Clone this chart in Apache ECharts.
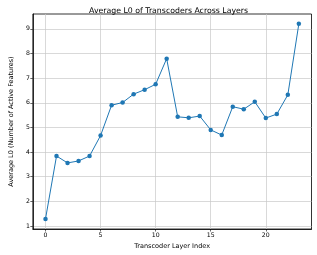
<!DOCTYPE html>
<html><head><meta charset="utf-8">
<script src="https://cdn.jsdelivr.net/npm/echarts@6/dist/echarts.min.js"></script>
<style>html,body{margin:0;padding:0;background:#fff}#c{width:317px;height:255px}</style>
</head><body><div id="c"></div>
<script>
const layers = [0,1,2,3,4,5,6,7,8,9,10,11,12,13,14,15,16,17,18,19,20,21,22,23];
const avgL0 = [1.29,3.84,3.56,3.64,3.84,4.67,5.90,6.01,6.35,6.53,6.75,7.79,5.43,5.39,5.46,4.90,4.69,5.84,5.74,6.04,5.38,5.54,6.32,9.20];
const xTicks = [0,5,10,15,20];
const yTicks = [1,2,3,4,5,6,7,8,9];
const FONT = 'DejaVu Sans';
const chart = echarts.init(document.getElementById('c'), null, {renderer:'canvas'});
const axisCommon = {
  axisLine:{show:true,onZero:false,lineStyle:{color:'#000',width:0.8}},
  axisTick:{show:true,length:2.5,lineStyle:{color:'#000',width:0.6}},
  axisLabel:{color:'#000',fontFamily:FONT,fontSize:6.2,margin:3},
  splitLine:{show:true,lineStyle:{color:'#c8c8c8',width:0.7}},
  nameTextStyle:{color:'#000',fontFamily:FONT,fontSize:6.5}
};
chart.setOption({
  animation:false,
  title:{text:'Average L0 of Transcoders Across Layers',left:84,top:2,
    textStyle:{fontFamily:FONT,fontSize:7.8,fontWeight:'normal',color:'#000'}},
  grid:{left:22,right:5.5,top:14,bottom:25,containLabel:false,show:true,borderColor:'#000',borderWidth:0.8},
  xAxis:Object.assign({},axisCommon,{
    type:'value',min:-1.15,max:24.15,name:'Transcoder Layer Index',nameLocation:'middle',nameGap:14,
    axisTick:Object.assign({},axisCommon.axisTick,{customValues:xTicks}),
    axisLabel:Object.assign({},axisCommon.axisLabel,{customValues:xTicks}),
  }),
  yAxis:Object.assign({},axisCommon,{
    type:'value',min:0.88,max:9.6,name:'Average L0 (Number of Active Features)',nameLocation:'middle',nameGap:14,
    axisTick:Object.assign({},axisCommon.axisTick,{customValues:yTicks}),
    axisLabel:Object.assign({},axisCommon.axisLabel,{customValues:yTicks}),
  }),
  series:[{
    type:'line',data:layers.map((x,i)=>[x,avgL0[i]]),
    symbol:'circle',symbolSize:4.5,
    lineStyle:{color:'#1f77b4',width:1},
    itemStyle:{color:'#1f77b4'}
  }]
});
</script></body></html>
